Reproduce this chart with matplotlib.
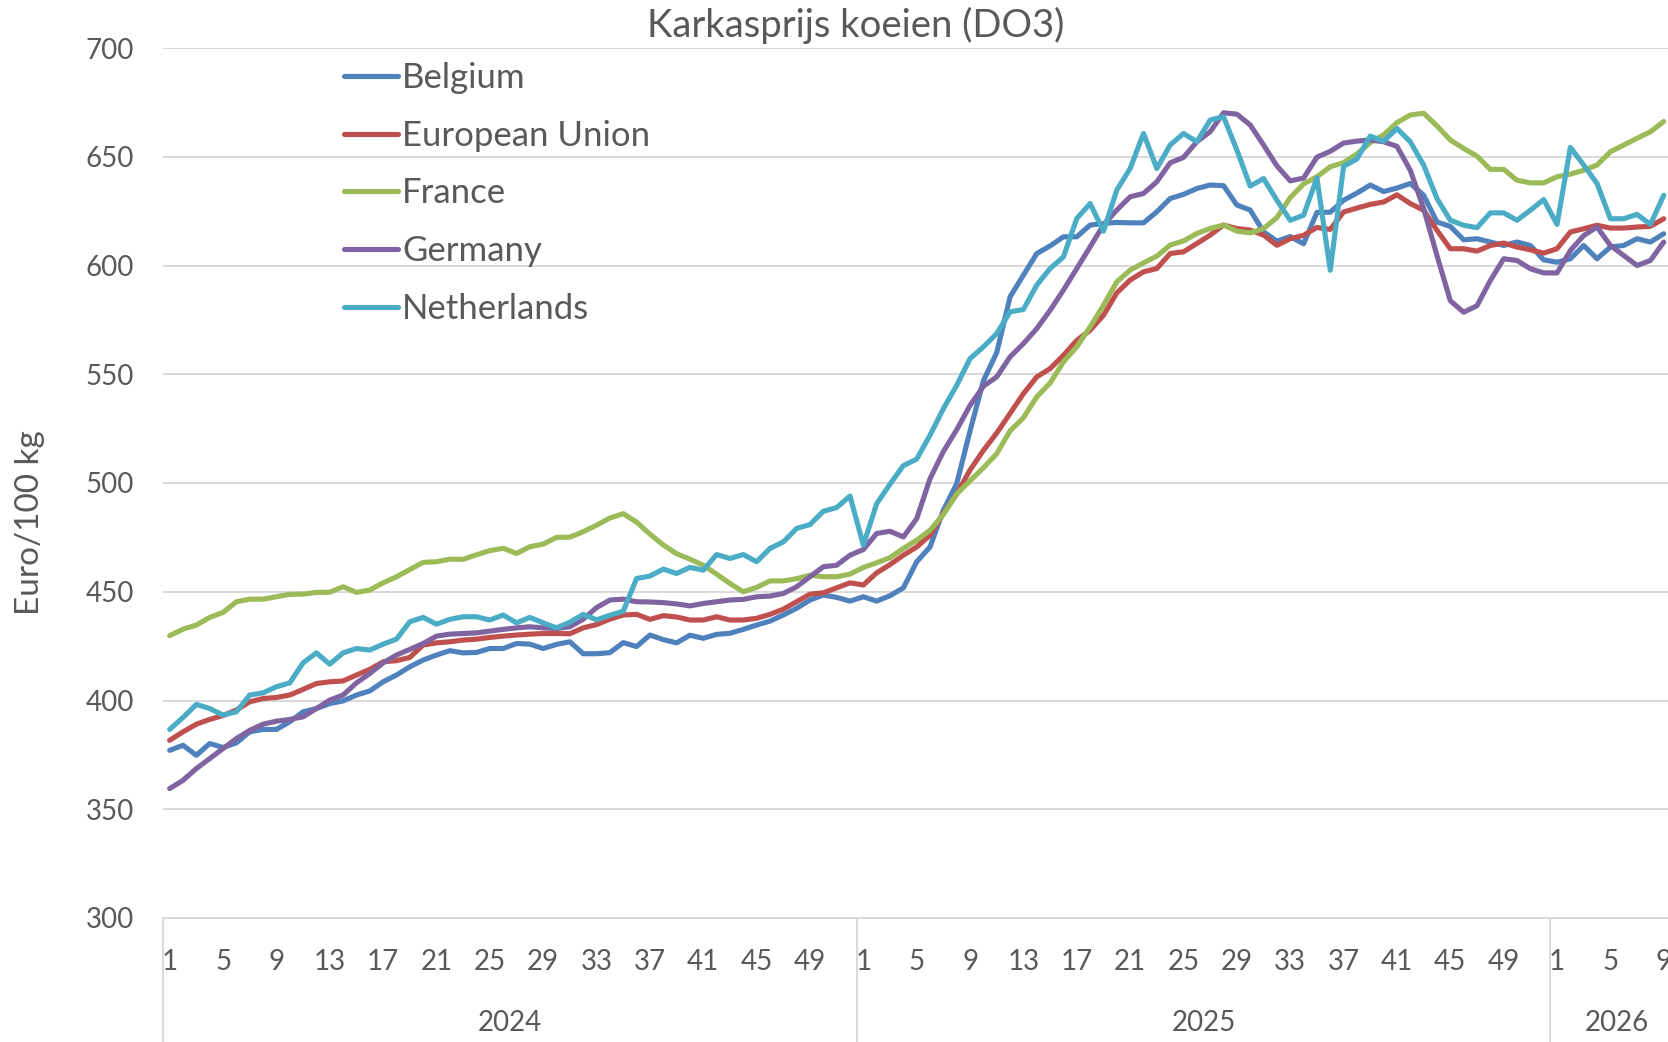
import matplotlib.pyplot as plt
import matplotlib.transforms as mtransforms
from matplotlib.lines import Line2D

plt.rcParams['font.family'] = ['Lato', 'DejaVu Sans']

# categories: week numbers grouped per year (2026 group runs off the right edge)
years = [2024, 2025, 2026]
weeks_per_year = [52, 52, 10]

# Euro/100 kg, 2024 wk1 .. 2026 wk9
belgium = [
    377.1, 379.4, 374.8, 380.2, 378.4, 380.5, 385.6, 386.7, 386.7, 390.2,
    394.8, 396.3, 398.6, 399.8, 402.5, 404.4, 408.6, 411.7, 415.5, 418.6,
    420.9, 422.9, 421.9, 422.1, 423.9, 423.9, 426.2, 425.9, 423.9, 425.8,
    427.0, 421.5, 421.5, 422.0, 426.6, 424.8, 430.1, 428.0, 426.5, 430.0,
    428.6, 430.4, 430.9, 432.7, 434.7, 436.5, 439.3, 442.4, 446.2, 448.5,
    447.4, 445.7,
    447.7, 445.7, 448.2, 451.8, 463.8, 470.6, 487.5, 499.7, 524.0, 547.0,
    560.0, 585.6, 595.6, 605.5, 609.0, 613.2, 613.2, 618.6, 619.3, 619.8,
    619.6, 619.6, 624.7, 630.8, 632.7, 635.4, 637.0, 636.7, 627.8, 625.5,
    615.5, 611.2, 613.3, 610.0, 624.4, 624.5, 630.0, 633.3, 637.0, 634.0,
    635.6, 637.7, 632.3, 620.0, 618.0, 611.8, 612.3, 610.8, 609.2, 610.8,
    609.2, 602.6,
    601.5, 603.1, 609.2, 603.1, 608.5, 609.2, 612.3, 610.8, 614.6,
]
european_union = [
    381.7, 385.6, 389.1, 391.3, 393.1, 395.6, 399.4, 400.9, 401.4, 402.5,
    405.1, 407.8, 408.6, 409.0, 411.7, 414.3, 417.8, 418.3, 419.8, 425.5,
    426.5, 427.0, 427.8, 428.2, 429.0, 429.6, 430.1, 430.5, 430.8, 430.8,
    430.7, 433.4, 434.9, 437.4, 439.3, 439.6, 437.3, 439.0, 438.4, 437.0,
    437.0, 438.5, 437.0, 437.0, 437.8, 439.6, 442.0, 445.4, 448.9, 449.5,
    451.8, 454.1,
    453.1, 458.7, 462.5, 466.8, 470.6, 476.0, 486.0, 495.0, 506.0, 515.0,
    523.0, 532.0, 541.1, 548.8, 552.6, 558.7, 565.6, 570.2, 577.1, 587.4,
    593.3, 597.1, 598.6, 605.5, 606.3, 610.1, 614.0, 618.6, 617.0, 616.3,
    614.0, 609.3, 612.3, 613.9, 617.5, 616.6, 624.6, 626.4, 628.1, 629.2,
    632.5, 628.5, 625.4, 616.2, 607.7, 607.7, 606.6, 609.2, 610.3, 608.5,
    607.2, 605.7,
    607.7, 615.4, 616.9, 618.5, 617.2, 617.2, 617.7, 618.0, 621.5,
]
france = [
    429.8, 432.8, 434.7, 438.2, 440.5, 445.4, 446.6, 446.6, 447.7, 448.8,
    448.9, 449.7, 449.8, 452.3, 449.7, 450.8, 454.1, 456.9, 460.2, 463.5,
    463.8, 465.0, 464.9, 467.0, 468.9, 470.0, 467.6, 470.7, 471.9, 475.0,
    475.1, 477.6, 480.6, 483.9, 485.9, 482.0, 476.5, 471.5, 467.5, 465.0,
    462.2, 458.1, 453.8, 450.0, 452.0, 455.0, 455.0, 456.0, 457.6, 456.9,
    456.9, 458.1,
    461.2, 463.3, 465.7, 469.9, 473.7, 478.3, 485.5, 495.0, 501.0, 507.0,
    513.5, 524.0, 530.0, 539.6, 546.0, 555.7, 562.6, 571.8, 581.7, 592.5,
    597.9, 601.2, 604.3, 609.4, 611.3, 614.7, 617.0, 618.6, 615.8, 615.0,
    617.0, 622.0, 631.2, 637.5, 640.8, 645.4, 647.3, 651.3, 656.5, 660.1,
    665.7, 669.2, 670.0, 664.2, 657.7, 653.8, 650.3, 644.2, 644.2, 639.2,
    638.0, 638.0,
    640.8, 642.0, 643.8, 646.2, 652.3, 655.4, 658.5, 661.5, 666.2,
]
germany = [
    359.5, 363.3, 368.7, 373.3, 377.9, 382.5, 386.3, 389.1, 390.5, 391.3,
    392.5, 396.3, 400.2, 402.5, 408.1, 412.4, 417.3, 420.9, 423.5, 426.2,
    429.6, 430.5, 430.8, 431.1, 431.9, 432.7, 433.4, 433.9, 433.4, 433.1,
    433.9, 437.4, 442.7, 446.2, 446.6, 445.4, 445.3, 445.0, 444.4, 443.5,
    444.6, 445.4, 446.2, 446.5, 447.7, 448.0, 449.2, 452.3, 456.9, 461.5,
    462.2, 466.8,
    469.4, 476.8, 477.8, 475.2, 483.6, 502.0, 514.5, 524.5, 535.7, 544.5,
    548.8, 558.0, 564.1, 571.0, 579.4, 588.7, 598.6, 608.6, 618.6, 625.5,
    631.6, 633.1, 638.5, 647.2, 649.7, 656.9, 661.5, 670.2, 669.6, 664.6,
    655.4, 645.8, 638.9, 640.2, 649.8, 652.5, 656.3, 657.2, 657.7, 656.9,
    654.8, 643.8, 626.2, 604.6, 583.8, 578.5, 581.5, 593.1, 603.1, 602.3,
    598.5, 596.6,
    596.6, 606.9, 613.8, 617.7, 609.2, 604.6, 600.0, 602.3, 610.8,
]
netherlands = [
    386.7, 392.2, 398.2, 396.3, 393.3, 394.8, 402.5, 403.5, 406.3, 408.1,
    417.3, 421.9, 416.7, 421.9, 423.9, 423.2, 425.9, 428.2, 436.2, 438.2,
    435.1, 437.3, 438.5, 438.5, 437.0, 439.3, 435.7, 438.2, 435.7, 433.4,
    436.0, 439.6, 437.1, 439.2, 441.0, 456.1, 457.2, 460.4, 458.4, 461.2,
    459.9, 467.1, 465.3, 467.1, 463.8, 469.9, 472.9, 479.1, 480.9, 487.0,
    488.7, 494.0,
    471.4, 490.5, 499.5, 508.0, 511.0, 522.0, 534.2, 544.9, 557.2, 562.6,
    568.7, 578.7, 579.8, 591.0, 598.6, 604.0, 621.6, 628.5, 615.8, 634.7,
    644.6, 660.7, 644.6, 655.4, 660.7, 656.9, 666.9, 668.4, 653.1, 636.5,
    640.0, 630.0, 620.8, 623.1, 640.2, 597.8, 645.6, 649.0, 659.5, 657.1,
    663.0, 656.9, 646.2, 630.8, 620.8, 618.5, 617.4, 624.2, 624.2, 620.8,
    625.4, 630.3,
    618.9, 654.3, 646.2, 637.7, 621.5, 621.5, 623.5, 618.9, 632.3,
]

series = [
    ("Belgium", belgium, "#4F81BD"),
    ("European Union", european_union, "#C0504D"),
    ("France", france, "#9BBB59"),
    ("Germany", germany, "#8064A2"),
    ("Netherlands", netherlands, "#4BACC6"),
]

text_col = "#595959"
grid_col = "#d9d9d9"
W, H = 1668, 1042

fig = plt.figure(figsize=(W / 100, H / 100), dpi=100)
n_cat = sum(weeks_per_year)
# plot area is wider than the picture: the 2026 group is cut off on the right
ax = fig.add_axes([163 / W, 1 - 918 / H, n_cat * 13.34 / W, 870 / H])

for name, vals, col in series:
    ax.plot(range(len(vals)), vals, color=col, lw=3.7, label=name,
            solid_joinstyle='round', solid_capstyle='round')

ax.set_ylim(300, 700)
ax.set_yticks(range(300, 701, 50))
ax.set_xlim(-0.5, n_cat - 0.5)
ax.grid(axis='y', color=grid_col, lw=1.4)
ax.set_axisbelow(True)
for s in ['top', 'right', 'left']:
    ax.spines[s].set_visible(False)
ax.spines['bottom'].set_color(grid_col)
ax.spines['bottom'].set_linewidth(1.4)

# week labels every 4 weeks, years underneath
pos, lab = [], []
offset = 0
trans = mtransforms.blended_transform_factory(ax.transData, ax.transAxes)
for yr, n in zip(years, weeks_per_year):
    for w in range(1, n + 1, 4):
        pos.append(offset + w - 1)
        lab.append(str(w))
    ax.text(offset + n / 2 - 0.5, -0.121, str(yr), transform=trans,
            ha='center', va='center', fontsize=20, color=text_col)
    ax.add_line(Line2D([offset - 0.5, offset - 0.5], [0, -0.2], transform=trans,
                       clip_on=False, color=grid_col, lw=1.4))
    offset += n
ax.set_xticks(pos, lab)
ax.tick_params(axis='x', length=0, pad=22.5, labelsize=20, labelcolor=text_col)
ax.tick_params(axis='y', length=0, pad=21, labelsize=20, labelcolor=text_col)

fig.text(856 / W, 1 - 25 / H, "Karkasprijs koeien (DO3)", ha='center', va='center',
         fontsize=27.5, color=text_col)
fig.text(30 / W, 1 - 523 / H, "Euro/100 kg", ha='center', va='center', rotation=90,
         fontsize=24, color=text_col)

leg = ax.legend(loc='upper left', bbox_to_anchor=(344 / W, 1 - 62 / H),
                bbox_transform=fig.transFigure, frameon=False, fontsize=25,
                handlelength=1.56, handletextpad=0.12, labelspacing=0.74,
                borderpad=0, borderaxespad=0)
for t in leg.get_texts():
    t.set_color(text_col)

fig.savefig("out.png", dpi=100)
